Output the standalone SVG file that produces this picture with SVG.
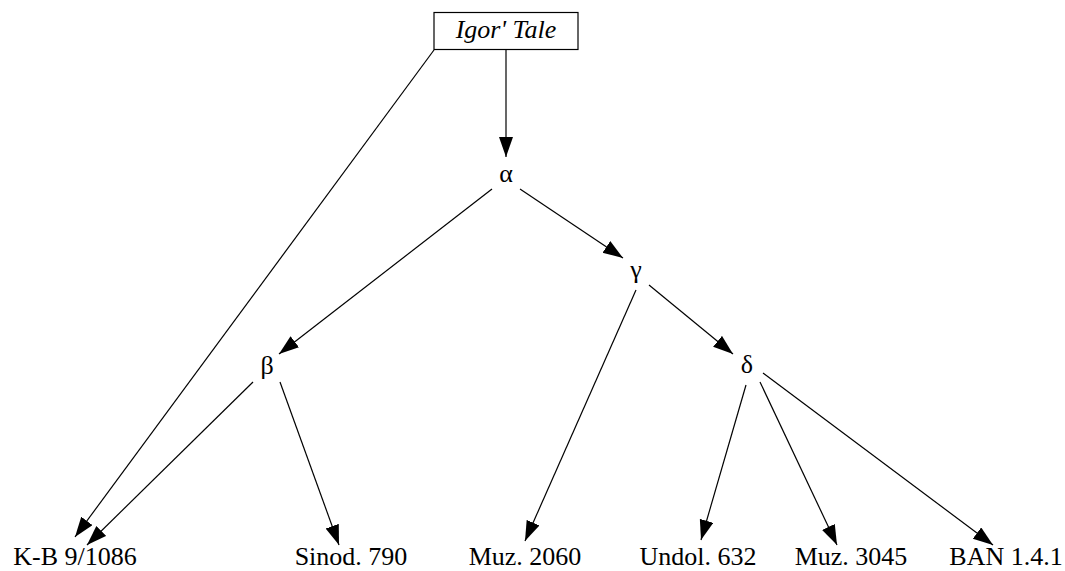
<svg xmlns="http://www.w3.org/2000/svg" width="1065" height="571" viewBox="0 0 1065 571">
<style>
text{font-size:26px;fill:#000;text-anchor:middle}
.edge{stroke:#000;stroke-width:1.2;fill:none;marker-end:url(#arr)}
</style>
<defs>
<marker id="arr" markerUnits="userSpaceOnUse" markerWidth="21" markerHeight="15" refX="20" refY="7" orient="auto">
<path d="M0,0 L20,7 L0,14 z" fill="#000"/>
</marker>
</defs>
<rect width="1065" height="571" fill="#fff"/>
<g id="edges">
<line class="edge" x1="506" y1="50" x2="506" y2="157"/>
<line class="edge" x1="434" y1="50" x2="75" y2="537"/>
<line class="edge" x1="492" y1="189" x2="279" y2="354"/>
<line class="edge" x1="520" y1="189" x2="623" y2="258"/>
<line class="edge" x1="649" y1="285" x2="733" y2="354"/>
<line class="edge" x1="636" y1="290" x2="525" y2="541"/>
<line class="edge" x1="253" y1="382" x2="87" y2="545"/>
<line class="edge" x1="280" y1="382" x2="339" y2="545"/>
<line class="edge" x1="746" y1="385" x2="701" y2="540"/>
<line class="edge" x1="760" y1="382" x2="837" y2="545"/>
<line class="edge" x1="763" y1="373" x2="993" y2="545"/>
</g>
<g font-family="Liberation Serif, Times New Roman, serif">
<g id="igor">
<rect x="434" y="12.5" width="144" height="37" fill="none" stroke="#000" stroke-width="1.2"/>
<text x="506" y="38" font-style="italic">Igor' Tale</text>
</g>
<g id="alpha"><text x="506" y="182">α</text></g>
<g id="beta"><text x="267" y="374">β</text></g>
<g id="gamma"><text x="636" y="278">γ</text></g>
<g id="delta"><text x="747" y="373">δ</text></g>
<g id="kb"><text x="75" y="565">K-B 9/1086</text></g>
<g id="sinod"><text x="351" y="565">Sinod. 790</text></g>
<g id="muz2060"><text x="525" y="565">Muz. 2060</text></g>
<g id="undol"><text x="698" y="565">Undol. 632</text></g>
<g id="muz3045"><text x="851" y="565">Muz. 3045</text></g>
<g id="ban"><text x="1006" y="565">BAN 1.4.1</text></g>
</g>
</svg>
